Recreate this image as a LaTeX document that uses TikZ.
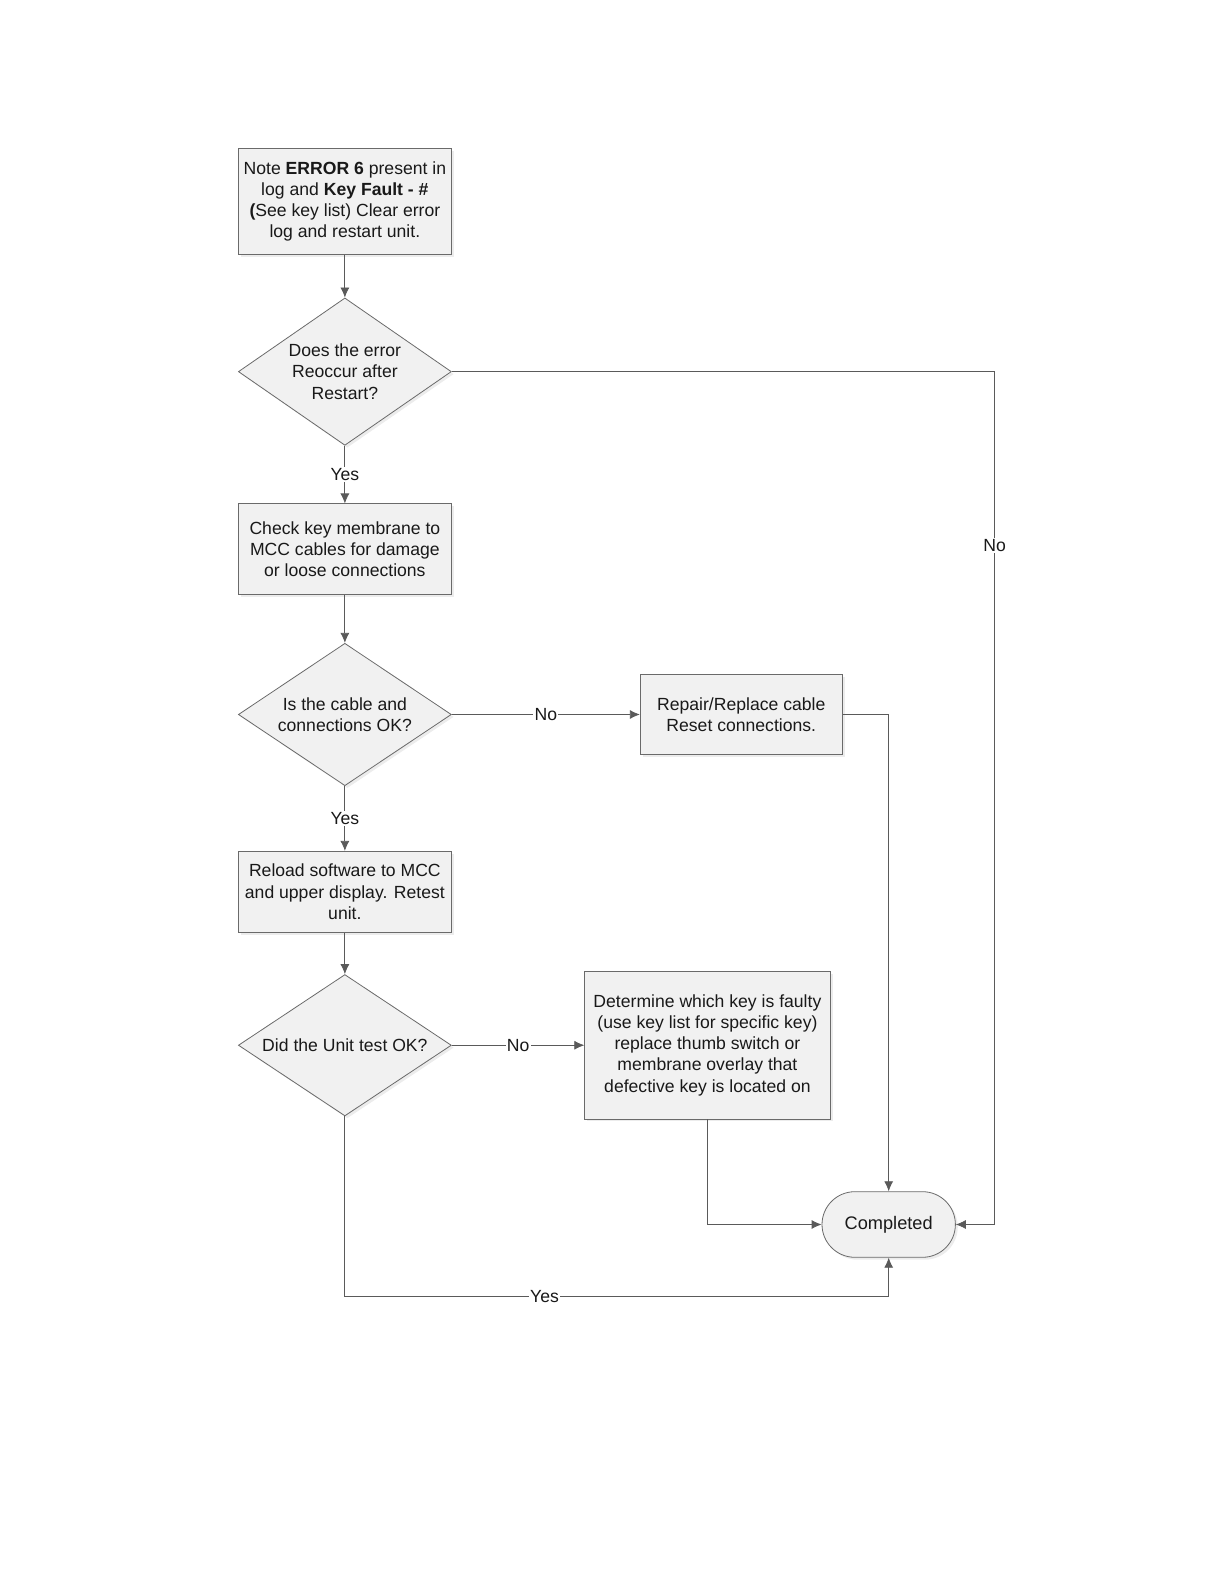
\documentclass[tikz,border=0pt]{standalone}
\usepackage{fontspec}
\setmainfont{Liberation Sans}
\usetikzlibrary{shapes.geometric,arrows.meta,shadows,positioning}

\definecolor{boxfill}{HTML}{F1F1F1}
\definecolor{edge}{HTML}{6A6A6A}
\definecolor{wire}{HTML}{5A5A5A}

\begin{document}
\begin{tikzpicture}[
        x=0.505pt, y=-0.505pt,
        font=\fontsize{8.8}{10.6}\selectfont,
        base/.style = {draw=edge, fill=boxfill, inner sep=0pt, align=center, text=black!90,
                drop shadow={shadow xshift=1.2pt, shadow yshift=-1.2pt, opacity=0.15}},
        box/.style = {base, rectangle, minimum width=106.5pt},
        dec/.style = {base, diamond, aspect=1.445, minimum width=106.5pt, minimum height=73.7pt},
        term/.style = {base, rectangle, rounded corners=16.4pt, minimum width=66.7pt, minimum height=32.8pt},
        arr/.style = {draw=wire, -{Latex[length=5pt,width=4.5pt]}},
        lbl/.style = {fill=white, inner sep=0.6pt, text=black!90},
        ]
        \useasboundingbox (0,0) rectangle (1212,1568.5);

        % main column
        \node[box, minimum height=53pt](note) at (341.5,199.5)
                {Note \textbf{ERROR 6} present in\\ log and \textbf{Key Fault - \#}\\ \textbf{(}See key list) Clear error\\ log and restart unit.};
        \node[dec](reocc) at (341.5,368) {Does the error\\ Reoccur after\\ Restart?};
        \node[box, minimum height=45.5pt](check) at (341.5,544) {Check key membrane to\\ MCC cables for damage\\ or loose connections};
        \node[dec, minimum height=71.2pt](cable) at (341.5,707.5) {Is the cable and\\ connections OK?};
        \node[box, minimum height=40.4pt](reload) at (341.5,883) {Reload software to MCC\\ and upper display. Retest\\ unit.};
        \node[dec, minimum height=70.7pt](unit) at (341.5,1035) {Did the Unit test OK?};

        % right side
        \node[box, minimum width=101pt, minimum height=39.9pt](repair) at (734,707.5) {Repair/Replace cable\\ Reset connections.};
        \node[box, minimum width=122.7pt, minimum height=73.7pt](faulty) at (700.5,1035)
                {Determine which key is faulty\\ (use key list for specific key)\\ replace thumb switch or\\ membrane overlay that\\ defective key is located on};
        \node[term](done) at (880,1212.5) {\fontsize{9.1}{11}\selectfont Completed};

        \coordinate (rt) at (985,712);
        \coordinate (bt) at (737,1284);

        \draw[arr] (note) -- (reocc);
        \draw[arr] (reocc) -- node[lbl]{Yes} (check);
        \draw[arr] (check) -- (cable);
        \draw[arr] (cable) -- node[lbl]{Yes} (reload);
        \draw[arr] (reload) -- (unit);
        \draw[arr] (cable) -- node[lbl]{No} (repair);
        \draw[arr] (unit) -- node[lbl]{No} (faulty);
        \draw[arr] (repair.east) -| (done.north);
        \draw[arr] (faulty.south) |- (done.west);
        \draw[draw=wire] (reocc.east) -| node[lbl, pos=0.75]{No} (rt);
        \draw[arr] (rt) |- (done.east);
        \draw[draw=wire] (unit.south) |- node[lbl, pos=0.75]{Yes} (bt);
        \draw[arr] (bt) -| (done.south);
\end{tikzpicture}
\end{document}
